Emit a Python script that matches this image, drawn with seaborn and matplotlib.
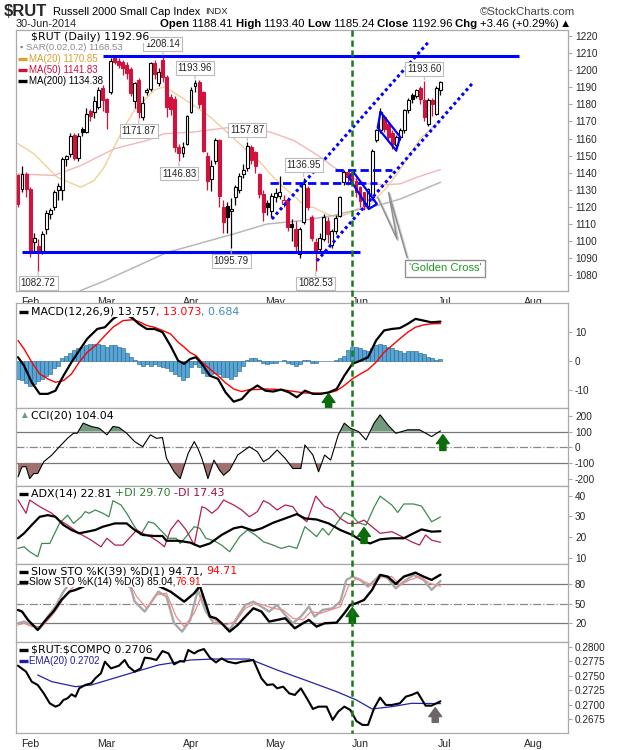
import numpy as np
import pandas as pd
import matplotlib
matplotlib.use("Agg")
import matplotlib.pyplot as plt
import matplotlib.transforms as mtransforms
from matplotlib.lines import Line2D
import seaborn as sns

sns.set_style("white")
plt.rcParams['font.family'] = ['Liberation Sans', 'DejaVu Sans']
WIDE = ['DejaVu Sans']

# ---------------- data ----------------
holidays = ["2014-02-17", "2014-04-18", "2014-05-26", "2014-07-04"]

opens = [1138.4, 1130.5, 1139.0, 1130.5, 1099.2, 1097.2, 1093.3, 1107.0, 1115.8, 1119.7,
         1129.9, 1130.0, 1148.0, 1151.0, 1161.8, 1148.7, 1165.8, 1163.8, 1176.1, 1175.5,
         1178.5, 1189.3, 1183.4, 1187.3, 1207.0, 1205.5, 1204.5, 1203.0, 1200.4, 1182.0,
         1194.5, 1172.6, 1187.0, 1189.2, 1204.3, 1192.6, 1205.9, 1196.1, 1184.4, 1183.4,
         1155.0, 1151.5, 1157.0, 1175.5, 1190.5, 1193.0, 1187.3, 1150.0, 1136.4, 1147.0,
         1159.0, 1119.7, 1120.7, 1117.5, 1125.6, 1130.0, 1139.3, 1142.9, 1155.0, 1152.0,
         1139.3, 1127.6, 1122.0, 1117.8, 1126.0, 1126.5, 1121.5, 1124.0, 1110.0, 1107.0,
         1092.3, 1111.0, 1131.0, 1113.9, 1099.2, 1095.3, 1101.2, 1112.0, 1098.0, 1106.0,
         1114.9, 1134.4, 1140.3, 1140.0, 1135.4, 1131.5, 1128.6, 1120.7, 1125.6, 1158.9,
         1164.8, 1172.6, 1168.7, 1163.0, 1156.0, 1160.9, 1164.8, 1176.5, 1185.3, 1185.0,
         1189.3, 1182.4, 1168.7, 1182.4, 1174.6, 1188.41]
highs = [1139.5, 1144.2, 1140.5, 1131.5, 1105.0, 1101.0, 1106.0, 1118.0, 1119.5, 1130.0,
         1134.0, 1149.0, 1150.5, 1163.0, 1163.5, 1163.0, 1167.0, 1178.0, 1177.5, 1185.0,
         1190.0, 1191.5, 1184.0, 1207.0, 1207.8, 1207.0, 1206.0, 1204.5, 1202.0, 1193.0,
         1195.5, 1185.0, 1189.5, 1205.0, 1206.0, 1201.0, 1208.14, 1197.0, 1186.0, 1185.0,
         1157.0, 1158.0, 1174.0, 1190.0, 1193.96, 1194.0, 1188.0, 1152.0, 1147.5, 1160.5,
         1160.0, 1124.0, 1123.0, 1125.0, 1133.0, 1140.0, 1145.0, 1157.87, 1156.5, 1153.0,
         1140.0, 1130.0, 1124.0, 1128.0, 1131.0, 1138.0, 1127.0, 1126.0, 1113.0, 1112.0,
         1108.0, 1136.95, 1132.0, 1115.0, 1102.0, 1105.0, 1116.0, 1114.0, 1107.0, 1115.0,
         1126.5, 1141.5, 1141.0, 1141.5, 1137.0, 1132.0, 1129.0, 1131.0, 1154.0, 1165.5,
         1178.0, 1174.0, 1169.0, 1165.0, 1162.0, 1166.0, 1177.5, 1183.5, 1186.5, 1189.0,
         1190.5, 1193.60, 1183.5, 1184.0, 1190.5, 1193.40]
lows = [1119.8, 1129.0, 1126.0, 1090.4, 1094.0, 1082.72, 1092.5, 1104.0, 1113.0, 1118.0,
        1124.0, 1124.0, 1144.0, 1149.0, 1147.5, 1147.0, 1161.5, 1163.0, 1170.0, 1172.0,
        1177.0, 1176.0, 1165.6, 1186.0, 1203.5, 1201.0, 1197.0, 1195.0, 1185.0, 1178.0,
        1171.87, 1171.0, 1185.5, 1188.0, 1195.0, 1191.0, 1193.0, 1172.6, 1174.0, 1152.0,
        1146.83, 1149.0, 1156.0, 1175.0, 1187.0, 1178.0, 1152.0, 1130.0, 1129.5, 1145.0,
        1120.0, 1105.0, 1105.0, 1095.79, 1121.0, 1128.0, 1137.0, 1141.0, 1145.0, 1140.0,
        1125.0, 1112.0, 1115.0, 1114.0, 1123.0, 1124.5, 1120.0, 1106.0, 1100.0, 1094.0,
        1090.0, 1110.0, 1118.0, 1100.0, 1082.53, 1093.0, 1100.0, 1099.0, 1096.0, 1104.0,
        1114.0, 1133.0, 1133.0, 1133.0, 1126.0, 1120.0, 1118.0, 1119.0, 1124.0, 1158.0,
        1163.0, 1164.0, 1158.0, 1154.0, 1153.0, 1159.0, 1163.0, 1175.0, 1181.0, 1184.0,
        1180.0, 1170.0, 1167.5, 1173.0, 1173.5, 1185.24]
closes = [1121.7, 1139.3, 1130.5, 1093.3, 1102.1, 1093.3, 1104.1, 1116.2, 1118.2, 1128.6,
          1132.1, 1148.1, 1149.5, 1161.2, 1148.7, 1161.2, 1163.8, 1174.2, 1173.2, 1181.8,
          1188.3, 1182.8, 1175.6, 1205.5, 1204.5, 1203.0, 1201.5, 1198.5, 1186.7, 1192.2,
          1175.5, 1180.8, 1188.5, 1204.3, 1198.0, 1199.0, 1196.1, 1178.5, 1177.5, 1155.0,
          1151.4, 1155.0, 1173.0, 1188.3, 1192.6, 1180.4, 1153.0, 1135.4, 1144.2, 1159.3,
          1126.6, 1111.0, 1114.3, 1118.8, 1131.5, 1137.8, 1141.7, 1155.4, 1147.2, 1144.2,
          1127.6, 1116.8, 1120.1, 1126.6, 1128.0, 1128.8, 1124.0, 1108.0, 1108.4, 1097.2,
          1107.0, 1133.5, 1119.7, 1102.1, 1093.3, 1102.1, 1113.9, 1104.0, 1106.0, 1113.5,
          1125.6, 1140.7, 1137.4, 1135.4, 1128.6, 1123.7, 1120.7, 1130.5, 1153.0, 1164.8,
          1175.6, 1165.8, 1160.9, 1157.0, 1160.9, 1164.8, 1176.5, 1182.4, 1183.4, 1188.3,
          1183.4, 1172.6, 1182.4, 1180.4, 1189.5, 1192.96]

ma20_x = [0, 4, 9.7, 15.6, 18.9, 21.4, 23.9, 26.4, 28.9, 31.4, 33.8, 36.3, 37.8, 43.6, 47.8,
          51.9, 56.9, 60.2, 62.7, 66.0, 68.5, 71.8, 73.5, 76.8, 79.3, 81.8, 84.3, 86.8, 89.2,
          91.7, 94.2, 96.7, 100, 105]
ma20_v = [1157, 1151, 1137.4, 1131.5, 1135.4, 1143.2, 1155, 1166.7, 1176.5, 1182.4, 1188.3,
          1190.2, 1188.3, 1179.5, 1172.6, 1163.8, 1153, 1146.2, 1139.3, 1131.5, 1126.6, 1119.7,
          1119.7, 1115.8, 1113.9, 1115.8, 1118.8, 1119.7, 1125.6, 1131.5, 1139.3, 1148.1, 1160,
          1170.85]
ma50_x = [0, 9, 15.6, 23.9, 32.1, 36.3, 43.6, 51.9, 56.9, 62.7, 68.5, 72.6, 75.2, 78.5, 82.6,
          86.8, 91.7, 95.0, 99.2, 105]
ma50_v = [1139.3, 1138.4, 1144.2, 1154, 1158.9, 1162.8, 1163.8, 1166.3, 1165.8, 1163.8, 1158.9,
          1153, 1149.1, 1143.2, 1137.4, 1133.5, 1133, 1133.5, 1137.4, 1141.83]
ma200_x = [15.5, 21.4, 37, 53.5, 61.9, 70.2, 78.5, 83.4, 89.2, 95, 105]
ma200_v = [1071, 1076.6, 1093.3, 1104.1, 1110, 1111.9, 1115.0, 1117.8, 1120.7, 1124.6, 1134.38]

label_idx = [5, 36, 30, 44, 40, 57, 53, 71, 74, 101]
label_val = [1082.72, 1208.14, 1171.87, 1193.96, 1146.83, 1157.87, 1095.79, 1136.95, 1082.53, 1193.60]
label_up = [False, True, False, True, False, True, False, True, False, True]

macd_x = [0, 1.5, 3.4, 5.4, 7.4, 9.3, 11.3, 13.3, 15.2, 17.2, 19.7, 21.6, 23.6, 26.1, 28.5,
          30.0, 32.0, 33.9, 35.9, 37.9, 39.8, 41.3, 42.8, 44.2, 45.7, 47.7, 49.7, 51.6, 53.6,
          55.6, 57.5, 59.5, 61.5, 63.4, 65.4, 67.4, 69.3, 71.3, 73.3, 75.2, 77.2, 79.2, 81.1,
          83.1, 85.1, 87.0, 89.0, 91.0, 92.9, 94.9, 96.9, 98.8, 100.8, 102.8, 105]
macd_v = [1.4, -1.5, -7.3, -11.3, -11.3, -10.2, -5.0, -0.3, 3.7, 7.8, 11.2, 11.8, 14.7, 16.8,
          14.9, 13.0, 11.2, 11.2, 10.1, 5.4, 0.2, -0.9, 0.8, 1.4, -0.9, -5.0, -6.1, -10.8, -14.0,
          -13.1, -10.2, -8.4, -10.2, -10.5, -9.8, -10.8, -12.5, -10.2, -11.3, -11.3, -10.8, -9.6,
          -5.0, -0.9, 0.2, 1.4, 7.2, 10.7, 11.2, 11.5, 13.0, 14.7, 14.1, 13.5, 13.757]
signal_v = [7.2, 4.3, -0.3, -4.4, -6.1, -7.3, -6.7, -4.4, -0.3, 3.1, 6.0, 8.9, 11.8, 14.1,
            14.4, 13.8, 12.4, 11.8, 10.7, 9.5, 6.6, 4.9, 3.0, 2.0, -0.3, -2.7, -5.0, -7.5, -9.6,
            -10.5, -9.8, -9.8, -9.6, -9.7, -9.8, -10.2, -10.6, -11.0, -11.0, -11.1, -11.0, -10.2,
            -8.4, -6.1, -4.4, -2.9, -0.3, 3.1, 5.4, 7.8, 10.1, 11.8, 12.6, 13.0, 13.073]
hist_v = [-6.1, -6.5, -7.5, -8.5, -8.0, -7.0, -6.0, -5.0, -4.5, -2.5,
          -1.5, 1.0, 2.0, 3.0, 4.0, 4.5, 5.0, 5.5, 6.0, 6.0,
          6.0, 5.5, 5.0, 5.5, 5.5, 5.0, 4.5, 3.0, 1.5, 0.5,
          -1.0, -1.5, -1.0, -1.5, -1.0, -1.5, -2.0, -2.5, -3.5, -4.5,
          -5.0, -6.5, -5.5, -2.0, -1.0, -2.0, -4.0, -5.0, -4.5, -4.0,
          -4.5, -5.5, -5.5, -6.0, -5.0, -3.5, -1.5, 0.5, 1.0, 1.0,
          0.5, -0.5, -1.0, -0.5, -0.5, 0.2, 0.3, -0.5, -1.0, -1.5,
          -1.0, 0.5, 0.5, -0.5, -0.5, 0.2, 0.2, 0.2, 0.2, 0.5,
          1.0, 2.0, 4.0, 5.0, 5.0, 4.5, 4.0, 3.5, 4.5, 5.5,
          6.0, 5.5, 5.0, 4.5, 4.0, 3.5, 3.0, 3.5, 3.5, 3.5,
          3.0, 2.5, 1.5, 1.0, 0.5, 0.684]

cci_x = [0, 1.0, 2.0, 2.9, 3.9, 4.9, 6.4, 8.4, 10.3, 12.3, 13.8, 14.7, 16.2, 18.2, 20.2, 22.1,
         23.6, 25.1, 27.0, 29.0, 31.0, 32.9, 34.4, 35.9, 36.9, 38.8, 40.3, 42.3, 43.8, 44.7,
         45.7, 47.2, 48.7, 50.1, 51.1, 52.6, 54.6, 57.5, 59.5, 61.0, 62.4, 64.4, 66.4, 68.3,
         70.3, 71.3, 73.3, 74.7, 76.2, 77.7, 79.6, 81.1, 82.6, 84.6, 86.5, 88.5, 90.0, 91.9,
         93.9, 96.9, 99.8, 102.8, 105]
cci_v = [-187, -123, -123, -198, -166, -166, -91, -49, 4, 57, 89, 89, 153, 132, 121, 79,
         132, 126, 89, 36, 4, 79, 57, 62, -70, -155, -198, -38, 36, -6,
         -70, -198, -81, -145, -177, -145, -49, 4, -28, -91, -70, -17, -70, -134,
         -134, 15, -49, -155, -49, -81, 79, 153, 121, 100, 47, 153, 206, 143,
         89, 111, 111, 68, 104.04]

adx_x = [0, 1.5, 3.4, 5.4, 7.4, 9.3, 11.3, 13.3, 15.2, 17.2, 19.2, 21.1, 24.1, 27.0, 29.0,
         31.0, 33.9, 35.9, 36.9, 39.8, 42.8, 45.2, 47.7, 50.6, 53.6, 55.6, 58.5, 60.5, 63.4,
         66.4, 69.3, 71.3, 74.2, 77.2, 80.1, 83.1, 85.1, 87.5, 90.0, 92.9, 95.9, 98.3, 100.3,
         102.8, 105]
adx_v = [19.4, 21.8, 25.8, 29.8, 30.6, 29.8, 25.8, 23.4, 21.8, 22.6, 23.4, 25.0, 26.6, 26.6,
         23.4, 21.0, 20.5, 20.5, 18.2, 18.2, 17.3, 15.3, 16.9, 21.0, 24.2, 25.0, 23.1, 24.2,
         26.9, 29.0, 31.1, 29.0, 28.5, 26.6, 23.4, 21.0, 18.5, 16.9, 18.9, 19.4, 19.4, 21.8,
         23.7, 22.6, 22.81]
pdi_x = [0, 1.5, 2.9, 4.9, 5.9, 7.9, 10.3, 12.3, 13.8, 15.7, 16.7, 17.7, 19.2, 21.1, 22.6,
         23.6, 25.6, 27.0, 29.0, 30.5, 32.4, 33.9, 35.4, 37.4, 39.3, 40.3, 41.8, 43.8, 45.2,
         46.7, 48.7, 50.6, 52.6, 55.1, 57.0, 59.0, 61.0, 63.4, 65.4, 67.4, 69.3, 71.3, 72.8,
         74.2, 75.7, 77.2, 79.2, 81.1, 83.1, 84.6, 86.5, 88.5, 90.0, 92.9, 94.4, 95.9, 98.3,
         100.3, 102.8, 105]
pdi_v = [14.5, 15.3, 12.9, 10.5, 16.9, 16.9, 26.6, 30.6, 26.6, 29.8, 32.3, 31.5, 33.1, 31.5,
         29.8, 37.6, 35.5, 31.5, 25.0, 21.0, 27.4, 26.6, 23.4, 19.4, 19.4, 16.9, 20.2, 25.0,
         24.2, 19.4, 18.2, 16.1, 12.9, 20.2, 23.4, 21.0, 17.7, 16.1, 14.5, 15.6, 14.5, 25.0,
         22.6, 20.2, 24.2, 21.0, 26.6, 31.9, 30.2, 26.9, 25.8, 34.4, 39.8, 35.5, 31.9, 36.0,
         36.0, 35.0, 27.4, 29.70]
mdi_x = [0, 2.0, 2.9, 5.4, 8.4, 10.3, 12.3, 15.2, 18.2, 20.6, 22.1, 24.1, 26.1, 28.0, 29.5,
         31.0, 32.9, 34.9, 36.4, 37.9, 39.8, 41.8, 43.8, 45.7, 46.7, 48.2, 49.7, 51.1, 53.6,
         55.6, 57.5, 59.5, 61.0, 62.4, 64.4, 66.4, 68.3, 69.8, 71.8, 74.0, 76.2, 78.2, 80.1,
         82.1, 84.1, 86.0, 87.5, 90.0, 92.9, 95.4, 97.8, 99.8, 101.3, 102.8, 105]
mdi_v = [37.9, 31.5, 37.9, 34.7, 31.5, 28.2, 25.8, 21.8, 18.5, 15.3, 19.4, 16.1, 16.1, 20.2,
         23.4, 21.8, 20.2, 17.7, 15.3, 23.4, 28.2, 23.4, 16.1, 34.7, 33.9, 31.5, 33.9, 37.9,
         35.5, 33.1, 29.8, 32.3, 37.6, 36.3, 33.1, 35.5, 34.7, 30.6, 27.4, 39.8, 34.7, 33.1,
         29.0, 26.6, 26.6, 28.2, 25.8, 21.8, 22.6, 20.2, 17.7, 16.1, 21.0, 18.5, 17.43]

k39_x = [0, 1.0, 2.5, 4.9, 6.9, 8.8, 10.8, 12.8, 14.3, 16.2, 20, 25, 30, 34, 37.9, 41.3, 43.8,
         45.2, 47.7, 49.2, 50.6, 52.6, 54.6, 56.5, 58.5, 60.5, 62.4, 64.4, 66.4, 68.8, 70.8,
         72.3, 74.2, 76.2, 79.2, 81.1, 82.6, 84.1, 86.0, 88.0, 90.0, 91.9, 93.9, 95.9, 98.8,
         100.8, 102.8, 105]
k39_v = [40.5, 38, 25, 9.7, 25, 38, 56, 68.7, 71.3, 76.4, 86, 92, 85, 80, 68.7, 53.3, 66.2,
         77.4, 30.3, 27.7, 20, 7.2, 17.4, 30.3, 43.1, 38, 22.6, 25.1, 27.7, 12.3, 20,
         25.1, 14.9, 20, 21, 35.4, 48.2, 50.8, 55.9, 71.3, 94.4, 91.8, 80.5, 91.8, 97.9,
         91.8, 86.7, 94.71]
k14_x = [0, 1.5, 3.4, 5.4, 7.4, 9.3, 11.3, 12.8, 16, 20, 24, 28, 29.0, 31.5, 32.9, 34.9, 36.9,
         38.8, 40.8, 42.8, 44.7, 46.7, 48.7, 50.6, 52.6, 54.6, 56.5, 58.5, 60.5, 62.4, 64.4,
         66.4, 68.3, 70.3, 72.3, 73.7, 75.7, 78.2, 80.1, 81.6, 83.1, 85.1, 87.0, 90.0, 91.9,
         93.9, 95.9, 98.3, 100.8, 102.8, 105]
k14_v = [20, 22.6, 17.4, 12.3, 30.3, 45.6, 68.7, 81.5, 92, 95, 88, 75, 53.3, 38, 50.8, 68.7, 61,
         20, 7.2, 25, 71.3, 38, 20, 20, 9.7, 30.3, 48.2, 53.3, 45.6, 38, 48.2,
         32.8, 20, 30.3, 45.6, 30.3, 40.5, 43.1, 53.3, 86.7, 91.8, 86.7, 76.4, 94.4, 89.2,
         73.8, 84.1, 94.4, 86.7, 71.3, 85.04]
d3_x = [0, 1.5, 3.4, 5.9, 7.9, 9.8, 11.8, 13.8, 17, 21, 25, 28, 29.5, 32.0, 34.4, 36.9, 39.3,
        41.3, 43.8, 45.7, 47.7, 49.7, 51.6, 54.1, 56.5, 59.0, 61.0, 63.4, 65.9, 68.3, 70.8,
        72.8, 75.2, 77.7, 80.1, 82.1, 84.1, 86.0, 88.0, 90.5, 92.9, 94.9, 97.4, 99.8, 102.3,
        105]
d3_v = [17.4, 20, 14.9, 14.9, 27.7, 43.1, 63.6, 76.4, 90, 93, 90, 78, 61, 43.1, 63.6, 66.2,
        30.3, 14.9, 35.4, 63.6, 32.8, 20, 17.4, 22.6, 43.1, 50.8, 48.2, 43.1, 40.5, 27.7,
        25, 38, 35.4, 40.5, 45.6, 76.4, 89.2, 84.1, 79, 91.8, 91.8, 79, 86.7, 91.8, 81.5,
        76.91]

ratio_x = [0, 2.0, 3.4, 4.9, 6.4, 7.9, 9.3, 10.3, 11.3, 12.3, 13.3, 14.3, 15.2, 16.7, 18.2,
           19.2, 20.6, 21.6, 23.1, 25.1, 26.5, 27.5, 29.0, 30.5, 31.5, 32.9, 34.4, 35.9, 37.4,
           38.8, 40.3, 41.3, 42.3, 43.8, 44.7, 46.2, 47.7, 49.2, 50.6, 52.1, 54.1, 55.6, 57.0,
           58.5, 60.5, 61.9, 63.4, 64.4, 65.9, 67.4, 68.8, 70.3, 71.8, 73.3, 74.7, 76.7, 78.2,
           79.6, 81.1, 82.6, 84.1, 85.6, 87.0, 88.5, 90.0, 91.4, 92.9, 94.9, 96.4, 97.8, 99.3,
           101.3, 102.8, 105]
ratio_v = [0.27673, 0.27570, 0.27398, 0.27341, 0.27197, 0.27025, 0.26968, 0.26997, 0.27083,
           0.27111, 0.27180, 0.27140, 0.27283, 0.27341, 0.27369, 0.27455, 0.27541, 0.27742,
           0.27627, 0.27673, 0.27771, 0.27656, 0.27570, 0.27627, 0.27811, 0.27799, 0.27771,
           0.27925, 0.27885, 0.27696, 0.27753, 0.27742, 0.27943, 0.27885, 0.27925, 0.27960,
           0.27811, 0.27730, 0.27799, 0.27742, 0.27713, 0.27742, 0.27753, 0.27771, 0.27455,
           0.27341, 0.27352, 0.27283, 0.27312, 0.27197, 0.27169, 0.27283, 0.27111, 0.26928,
           0.26968, 0.26968, 0.26739, 0.26882, 0.26968, 0.26911, 0.26721, 0.26653, 0.26653,
           0.26939, 0.27123, 0.26997, 0.26997, 0.27025, 0.27140, 0.27169, 0.27214, 0.26985,
           0.26985, 0.2706]
ema_x = [4.9, 8.4, 14.3, 18.2, 25.1, 34.9, 42.8, 48.7, 57.5, 64.4, 71.3, 79.2, 84.1, 88.0,
         92.9, 97.8, 105]
ema_v = [0.27513, 0.27398, 0.27312, 0.27341, 0.27484, 0.27685, 0.27771, 0.27788, 0.27788,
         0.27599, 0.27427, 0.27226, 0.27083, 0.26928, 0.26968, 0.27025, 0.2702]

# ---------------- figure layout ----------------
W, H = 620, 750
fig = plt.figure(figsize=(W / 100, H / 100), dpi=100)
fig.patch.set_facecolor("white")

dates = pd.bdate_range("2014-01-29", "2014-08-29")
dates = dates[~dates.isin(pd.to_datetime(holidays))]
month_pos = [i for i in range(1, len(dates)) if dates[i].month != dates[i - 1].month]
month_lab = [dates[i].strftime("%b") for i in month_pos]
XMIN, XMAX = -0.5, 136.7
GRID = "#aaaaaa"


def panel(top, bottom, ylim, yticks, fmt="{:g}", show_dates=False):
    ax = fig.add_axes([16 / W, 1 - bottom / H, 552 / W, (bottom - top) / H])
    ax.set_xlim(XMIN, XMAX)
    ax.set_ylim(*ylim)
    for sp in ax.spines.values():
        sp.set_color(GRID)
        sp.set_linewidth(0.9)
    ax.yaxis.tick_right()
    ax.set_yticks(yticks)
    ax.set_yticklabels([fmt.format(t) for t in yticks])
    ax.set_xticks(month_pos)
    ax.set_xticklabels(month_lab if show_dates else [])
    ax.tick_params(axis="y", labelsize=7.2, length=3, color=GRID, pad=2)
    ax.tick_params(axis="x", labelsize=7.6, length=2, color=GRID, pad=2)
    ax.set_xlabel("")
    ax.set_ylabel("")
    return ax


def line(ax, x, y, color, lw, z=3, alpha=1.0):
    sns.lineplot(x=x, y=y, ax=ax, color=color, linewidth=lw, estimator=None,
                 sort=False, legend=False, zorder=z, alpha=alpha)


def seq_text(x_px, y_px, parts, size=7.0, family=None, box=True):
    r = fig.canvas.get_renderer()
    x = x_px
    for s, col, wt in parts:
        kw = dict(family=family) if family else {}
        if box:
            kw["bbox"] = dict(boxstyle="square,pad=0.05", fc="white", ec="none")
        t = fig.text(x / W, 1 - y_px / H, s, color=col, fontsize=size, fontweight=wt,
                     ha="left", va="center", zorder=10, **kw)
        x += t.get_window_extent(renderer=r).width
    return x


def marker(x_px, y_px, color, w=9, lw=2.4):
    fig.add_artist(Line2D([x_px / W, (x_px + w) / W], [1 - y_px / H, 1 - y_px / H],
                          color=color, lw=lw, zorder=11, solid_capstyle="butt"))


def up_arrow(ax, x, y0, y1, color):
    ax.annotate("", xy=(x, y1), xytext=(x, y0), zorder=8,
                arrowprops=dict(arrowstyle="simple,head_width=1.15,head_length=0.8,tail_width=0.55",
                                fc=color, ec=color, mutation_scale=8, shrinkA=0, shrinkB=0))


# ---------------- price panel ----------------
ax = panel(30, 291, (1070.8, 1223.5), list(range(1080, 1221, 10)), show_dates=True)
line(ax, ma20_x, ma20_v, "#f3cf98", 1.0, z=2)
line(ax, ma50_x, ma50_v, "#f4b6b6", 1.0, z=2)
line(ax, ma200_x, ma200_v, "#b8b8b8", 1.1, z=2)

RED, BLK = "#d2123c", "#000000"
prev = [opens[0]] + closes[:-1]
for i in range(len(closes)):
    o, h, l, c = opens[i], highs[i], lows[i], closes[i]
    edge = RED if c < prev[i] else BLK
    face = edge if c < o else "white"
    ax.vlines(i, l, h, color=edge, lw=0.9, zorder=3)
    ax.bar(i, max(abs(c - o), 0.5), bottom=min(o, c), width=0.72, facecolor=face,
           edgecolor=edge, linewidth=0.8, zorder=4)

BLUE = "#0000ff"
ax.hlines(1208.5, 21.2, 124.6, color=BLUE, lw=2.2, zorder=5)
ax.hlines(1093.5, 0.9, 85.1, color=BLUE, lw=2.2, zorder=5)
ax.hlines(1133.8, 62.7, 89.2, color=BLUE, lw=2.0, ls=(0, (3, 1.5)), zorder=5)
ax.hlines(1141.7, 78.9, 93.0, color=BLUE, lw=2.0, ls=(0, (3, 1.5)), zorder=5)
ax.plot([63.1, 102.1], [1112.9, 1216.7], color=BLUE, lw=2.2, ls=(0, (1, 1)), zorder=5)
ax.plot([74.3, 112.9], [1088.4, 1192.2], color=BLUE, lw=2.2, ls=(0, (1, 1)), zorder=5)
ax.plot([83.4, 82.2, 87.2, 89.2, 83.4], [1140.3, 1137.4, 1118.8, 1121.7, 1140.3],
        color=BLUE, lw=1.6, zorder=5)
ax.plot([90.1, 89.4, 94.0, 95.0, 90.1], [1175.5, 1166.3, 1153.0, 1160.9, 1175.5],
        color=BLUE, lw=1.6, zorder=5)

for i, v, up in zip(label_idx, label_val, label_up):
    ax.annotate(f"{v:.2f}", xy=(i, v), xytext=(0, 9 if up else -9), textcoords="offset points",
                ha="center", va="center", fontsize=7, zorder=7,
                bbox=dict(boxstyle="square,pad=0.2", fc="white", ec="#bbbbbb", lw=0.8),
                arrowprops=dict(arrowstyle="-", color="#bbbbbb", lw=0.8, shrinkA=0, shrinkB=1))

# golden cross call-out
gx = [89.4, 94.2, 92.1, 96.7]
gy = [1125.6, 1101.2, 1128.5, 1090.4]
ax.plot([g + 0.3 for g in gx], [g - 0.8 for g in gy], color="#d0d0d0", lw=1.4, zorder=5)
ax.plot(gx, gy, color="#909090", lw=1.1, zorder=6)
ax.text(106.2, 1084.0, "'Golden Cross'", color="#1f9a1f", fontsize=8, ha="center", va="center",
        zorder=7, bbox=dict(boxstyle="square,pad=0.35", fc="white", ec="#909090", lw=1.0))

seq_text(31, 37, [("\\$RUT (Daily) 1192.96", "#000000", "normal")], size=7.9, family=WIDE)
seq_text(20, 47.5, [("▪ SAR(0.02,0.2) 1168.53", "#8a8a8a", "normal")], size=6.8)
for yy, txt, col in [(59.3, "MA(20) 1170.85", "#d9a032"), (69.6, "MA(50) 1141.83", "#d0103a"),
                     (80.8, "MA(200) 1134.38", "#000000")]:
    marker(18, yy, col)
    seq_text(29, yy, [(txt, col, "normal")], size=7.0)

# ---------------- MACD ----------------
ax = panel(303, 408, (-16.2, 20.2), [-10, 0, 10])
ax.bar(range(len(hist_v)), hist_v, width=1.0, color="#58a5d4", edgecolor="#1f5f8f",
       linewidth=0.4, zorder=2)
line(ax, macd_x, signal_v, "#ff0000", 1.0)
line(ax, macd_x, macd_v, "#000000", 1.6, z=4)
up_arrow(ax, 77.2, -16.0, -11.2, "#0b6b0b")
marker(19, 311.5, "#000000")
seq_text(31, 311.5, [("MACD(12,26,9) 13.757", "#000000", "normal"), (", 13.073", "#ff0000", "normal"),
                     (", 0.684", "#3d8cc4", "normal")], size=7.9, family=WIDE)

# ---------------- CCI ----------------
ax = panel(408, 486, (-245, 249), [-200, -100, 0, 100, 200])
cx, cv = np.array(cci_x), np.array(cci_v)
ax.fill_between(cx, cv, 100, where=cv > 100, interpolate=True, color="#739a7c", lw=0, zorder=2)
ax.fill_between(cx, cv, -100, where=cv < -100, interpolate=True, color="#a0706e", lw=0, zorder=2)
ax.axhline(100, color="#777777", lw=0.9, zorder=1)
ax.axhline(-100, color="#777777", lw=0.9, zorder=1)
ax.axhline(0, color="#888888", lw=0.9, ls="-.", zorder=1)
line(ax, cci_x, cci_v, "#000000", 0.8)
up_arrow(ax, 105.6, -20, 80, "#0b6b0b")
seq_text(19, 415, [("▲", "#6f9a78", "normal")], size=7.0)
seq_text(31, 415, [("CCI(20) 104.04", "#000000", "normal")], size=7.9, family=WIDE)

# ---------------- ADX ----------------
ax = panel(486, 564, (6.95, 44.7), [10, 20, 30, 40])
line(ax, pdi_x, pdi_v, "#3d8a4f", 0.9)
line(ax, mdi_x, mdi_v, "#b3204d", 0.9)
line(ax, adx_x, adx_v, "#000000", 1.6, z=4)
up_arrow(ax, 86.0, 16.9, 24.6, "#0b6b0b")
marker(19, 493.5, "#000000")
seq_text(31, 493.5, [("ADX(14) 22.81 ", "#000000", "normal"), ("+DI 29.70 ", "#2e7d32", "normal"),
                     ("-DI 17.43", "#a0103a", "normal")], size=7.9, family=WIDE)

# ---------------- Slow STO ----------------
ax = panel(564, 642, (-8.8, 111.2), [20, 50, 80])
ax.axhline(80, color="#777777", lw=0.9, zorder=1)
ax.axhline(20, color="#777777", lw=0.9, zorder=1)
ax.axhline(50, color="#888888", lw=0.9, ls="-.", zorder=1)
line(ax, k14_x, k14_v, "#a8a8a8", 1.7)
line(ax, d3_x, d3_v, "#f08a8a", 0.9)
line(ax, k39_x, k39_v, "#000000", 1.7, z=4)
up_arrow(ax, 83.1, 20, 44, "#0b6b0b")
marker(19, 571.5, "#000000")
seq_text(31, 571.5, [("Slow STO %K(39) %D(1) 94.71, ", "#000000", "normal"), ("94.71", "#ff0000", "normal")],
         size=7.9, family=WIDE)
marker(19, 581.7, "#000000")
seq_text(29, 581.7, [("Slow STO %K(14) %D(3) 85.04,", "#000000", "normal"), ("76.91", "#ff0000", "normal")],
         size=7.4)

# ---------------- RUT:COMPQ ratio ----------------
ax = panel(642, 733, (0.26514, 0.28081), [0.2675, 0.27, 0.2725, 0.275, 0.2775, 0.28],
           fmt="{:.4f}", show_dates=True)
line(ax, ema_x, ema_v, "#2323b0", 0.9)
line(ax, ratio_x, ratio_v, "#000000", 1.5, z=4)
up_arrow(ax, 103.7, 0.26698, 0.26950, "#6e6666")
marker(19, 649.5, "#000000")
seq_text(31, 649.5, [("\\$RUT:\\$COMPQ 0.2706", "#000000", "normal")], size=7.9, family=WIDE)
marker(19, 660.5, "#1f1f9a")
seq_text(29, 660.5, [("EMA(20) 0.2702", "#1f1f9a", "normal")], size=7.0)

# green dashed vertical marker through every panel
main_ax = fig.axes[0]
trans = mtransforms.blended_transform_factory(main_ax.transData, fig.transFigure)
fig.add_artist(Line2D([83.1, 83.1], [1 - 30 / H, 1 - 733 / H], transform=trans,
                      color="#1a7a1a", lw=1.8, ls=(0, (2.5, 1.5)), zorder=9))

# ---------------- header ----------------
fig.text(4 / W, 1 - 11 / H, "\\$RUT", fontsize=12, fontweight="bold", va="center")
x_end = seq_text(53, 12, [("Russell 2000 Small Cap Index", "#000000", "normal")], size=7.9, box=False)
fig.text((x_end + 5) / W, 1 - 12 / H, "INDX", fontsize=6.8, va="center")
fig.text(575 / W, 1 - 12 / H, "©StockCharts.com", fontsize=8.2, va="center", ha="right", color="#444444")
fig.text(16 / W, 1 - 24 / H, "30-Jun-2014", fontsize=7.8, va="center")
seq_text(160, 24, [("Open ", "#000000", "bold"), ("1188.41 ", "#000000", "normal"),
                   ("High ", "#000000", "bold"), ("1193.40 ", "#000000", "normal"),
                   ("Low ", "#000000", "bold"), ("1185.24 ", "#000000", "normal"),
                   ("Close ", "#000000", "bold"), ("1192.96 ", "#000000", "normal"),
                   ("Chg ", "#000000", "bold"), ("+3.46 (+0.29%)", "#000000", "normal"),
                   ("▲", "#000000", "normal")], size=8.2, box=False)

fig.savefig("out.png", dpi=100, facecolor="white")
